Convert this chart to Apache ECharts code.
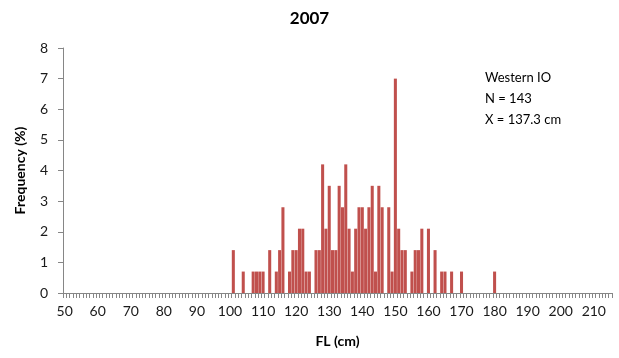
<!DOCTYPE html>
<html>
<head>
<meta charset="utf-8">
<script src="https://cdn.jsdelivr.net/npm/echarts@6/dist/echarts.min.js"></script>
<style>
  html, body { margin: 0; padding: 0; background: #fff; }
  #chart { width: 619px; height: 358px; }
</style>
</head>
<body>
<div id="chart"></div>
<script>
// Fork length classes (cm) and their share of the 2007 Western IO sample (%)
const lengths = [101, 104, 107, 108, 109, 110, 112, 114, 115, 116, 118, 119, 120, 121, 122, 123, 124,
  126, 127, 128, 129, 130, 131, 132, 133, 134, 135, 136, 137, 138, 139, 140, 141, 142, 143, 144,
  145, 146, 148, 149, 150, 151, 152, 153, 155, 156, 157, 158, 160, 162, 164, 165, 167, 170, 180];
const frequency = [1.4, 0.7, 0.7, 0.7, 0.7, 0.7, 1.4, 0.7, 1.4, 2.8, 0.7, 1.4, 1.4, 2.1, 2.1, 0.7, 0.7,
  1.4, 1.4, 4.2, 2.1, 3.5, 1.4, 1.4, 3.5, 2.8, 4.2, 2.1, 0.7, 2.1, 2.8, 2.8, 2.1, 2.8, 3.5, 0.7,
  3.5, 2.8, 2.8, 0.7, 7.0, 2.1, 1.4, 1.4, 0.7, 1.4, 1.4, 2.1, 2.1, 1.4, 0.7, 0.7, 0.7, 0.7, 0.7];
const xMin = 50, xMax = 215;
const yTicks = [0, 1, 2, 3, 4, 5, 6, 7, 8];
const noteLines = ['Western IO', 'N = 143', 'X = 137.3 cm'];

// One category per centimetre, empty classes drawn as zero
const categories = [];
for (let v = xMin; v <= xMax; v++) categories.push(String(v));
const lookup = new Map(lengths.map((l, i) => [l, frequency[i]]));
const values = categories.map(c => lookup.has(+c) ? lookup.get(+c) : 0);

const FONT = 'Lato, "Open Sans", sans-serif';
const chart = echarts.init(document.getElementById('chart'), null, { renderer: 'canvas' });
chart.setOption({
  animation: false,
  backgroundColor: '#ffffff',
  title: {
    text: '2007',
    left: 'center',
    top: 5,
    textStyle: { fontFamily: FONT, fontSize: 17, fontWeight: 'bold', color: '#000' }
  },
  grid: { left: 63, right: 7, top: 48, bottom: 65, containLabel: false },
  xAxis: {
    type: 'category',
    data: categories,
    boundaryGap: true,
    name: 'FL (cm)',
    nameLocation: 'middle',
    nameGap: 41,
    nameTextStyle: { fontFamily: FONT, fontSize: 14, fontWeight: 'bold', color: '#000' },
    axisLine: { lineStyle: { color: '#868686', width: 1 } },
    axisTick: { show: true, interval: 0, length: 5, lineStyle: { color: '#868686' } },
    axisLabel: {
      interval: 9,
      margin: 11,
      fontFamily: FONT,
      fontSize: 14,
      color: '#1a1a1a'
    },
    splitLine: { show: false }
  },
  yAxis: {
    type: 'value',
    min: yTicks[0],
    max: yTicks[yTicks.length - 1],
    interval: 1,
    name: 'Frequency (%)',
    nameLocation: 'middle',
    nameGap: 36,
    nameTextStyle: { fontFamily: FONT, fontSize: 14, fontWeight: 'bold', color: '#000' },
    axisLine: { show: true, lineStyle: { color: '#868686', width: 1 } },
    axisTick: { show: true, length: 5, lineStyle: { color: '#868686' } },
    axisLabel: { fontFamily: FONT, fontSize: 14, color: '#1a1a1a', margin: 15 },
    splitLine: { show: false }
  },
  graphic: [{
    type: 'text',
    left: 485,
    top: 67,
    style: {
      text: noteLines.join('\n'),
      font: '13px ' + FONT,
      lineHeight: 21,
      fill: '#000'
    }
  }],
  series: [{
    type: 'bar',
    data: values,
    barCategoryGap: '8%',
    itemStyle: { color: '#C0504D' }
  }]
});
</script>
</body>
</html>
